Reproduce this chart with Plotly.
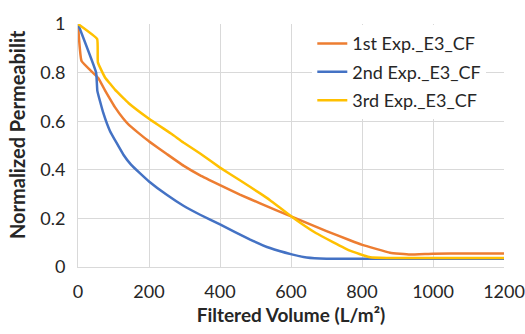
import plotly.graph_objects as go

# Data
orange_x = [0, 10, 57, 76, 90, 104, 128, 142, 170, 200, 250, 297, 344, 400, 456, 513, 602, 700, 766, 801, 879, 935, 1000, 1100, 1200]
orange_y = [1.0, 0.848, 0.778, 0.727, 0.692, 0.658, 0.61, 0.587, 0.552, 0.517, 0.465, 0.417, 0.377, 0.337, 0.298, 0.262, 0.207, 0.148, 0.11, 0.091, 0.059, 0.051, 0.055, 0.056, 0.056]

blue_x = [0, 51, 54.5, 71, 90, 128, 150, 175, 200, 250, 297, 344, 400, 485, 541, 602, 644, 700, 1200]
blue_y = [1.0, 0.80, 0.725, 0.635, 0.56, 0.462, 0.42, 0.385, 0.352, 0.297, 0.252, 0.215, 0.175, 0.113, 0.078, 0.052, 0.039, 0.034, 0.034]

yellow_x = [0, 54, 56, 76, 90, 104, 128, 142, 200, 264, 297, 344, 400, 456, 513, 541, 602, 670, 766, 823, 870, 1000, 1200]
yellow_y = [1.0, 0.938, 0.842, 0.78, 0.755, 0.73, 0.695, 0.675, 0.61, 0.547, 0.512, 0.467, 0.409, 0.357, 0.303, 0.275, 0.207, 0.14, 0.067, 0.04, 0.037, 0.037, 0.037]

names = ["1st Exp._E3_CF", "2nd Exp._E3_CF", "3rd Exp._E3_CF"]
colors = ["#ED7D31", "#4472C4", "#FFC000"]

x_ticks = [0, 200, 400, 600, 800, 1000, 1200]
y_ticks = [0, 0.2, 0.4, 0.6, 0.8, 1]

FONT = "Lato"

fig = go.Figure()
for i, (xs, ys) in enumerate([(orange_x, orange_y), (blue_x, blue_y), (yellow_x, yellow_y)]):
    fig.add_trace(go.Scatter(x=xs, y=ys, mode="lines", name=names[i],
                             legendgroup=f"g{i}",
                             line=dict(color=colors[i], width=2.5,
                                       shape="spline", smoothing=0.3)))

fig.update_layout(
    width=525, height=334,
    margin=dict(l=78, r=21, t=24, b=67),
    paper_bgcolor="white", plot_bgcolor="white",
    font=dict(family=FONT, size=18, color="#262626"),
    legend=dict(x=0.55, y=0.995, xanchor="left", yanchor="top",
                bgcolor="white", font=dict(size=18, color="#262626"),
                tracegroupgap=2, itemwidth=30),
    xaxis=dict(range=[0, 1200], tickvals=x_ticks, showgrid=True,
               gridcolor="#D9D9D9", gridwidth=1, zeroline=False,
               showline=True, linecolor="#D9D9D9", linewidth=1,
               ticks="", ticklabelstandoff=8, tickfont=dict(size=18),
               automargin=False,
               title=dict(text="<b>Filtered Volume (L/m²)</b>", font=dict(size=19), standoff=8)),
    yaxis=dict(range=[0, 1], tickvals=y_ticks, showgrid=True,
               gridcolor="#D9D9D9", gridwidth=1, zeroline=False,
               showline=True, linecolor="#D9D9D9", linewidth=1,
               ticks="", ticklabelstandoff=8, tickfont=dict(size=18),
               automargin=False),
    annotations=[dict(text="<b>Normalized Permeabilit</b>", textangle=-90,
                      xref="paper", yref="paper", x=0, y=0.543,
                      xanchor="center", yanchor="middle", xshift=-61,
                      showarrow=False, font=dict(size=20, color="#262626"))],
)

fig.write_html("out.html")
